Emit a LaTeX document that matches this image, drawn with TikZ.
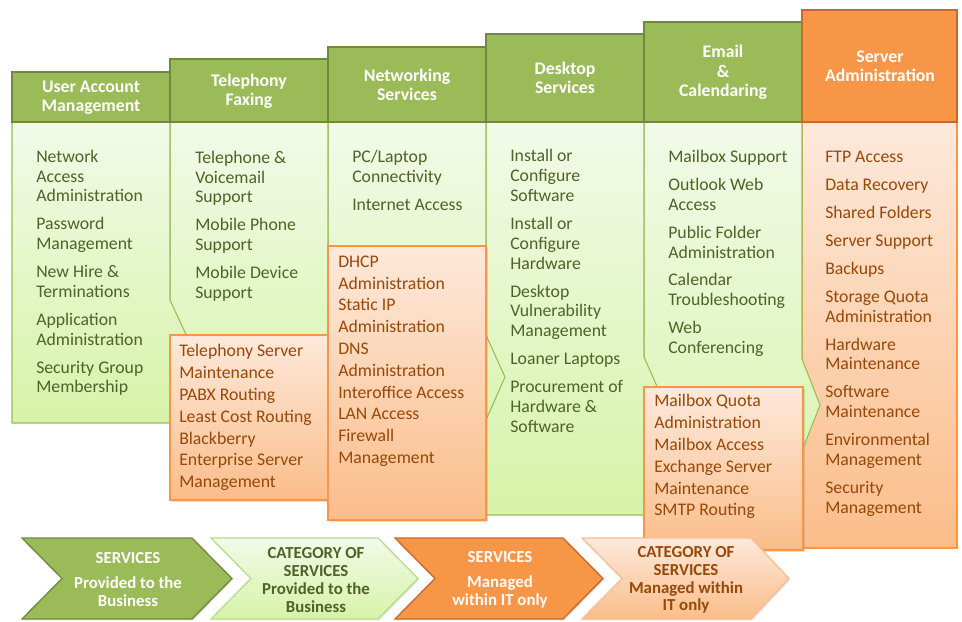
\documentclass[tikz,border=0pt]{standalone}
\usepackage{fontspec}
\setmainfont{Carlito}
\usetikzlibrary{shadows}
\definecolor{hdrG}{HTML}{9BBB59}
\definecolor{hdrGD}{HTML}{71893F}
\definecolor{hdrO}{HTML}{F79646}
\definecolor{hdrOD}{HTML}{C9682A}
\definecolor{gTop}{HTML}{F2FAE8}
\definecolor{gBot}{HTML}{D6F3A8}
\definecolor{gLine}{HTML}{9BBB59}
\definecolor{oTop}{HTML}{FDE9DB}
\definecolor{oBot}{HTML}{FBBD8A}
\definecolor{oLine}{HTML}{F79646}
\definecolor{txtG}{HTML}{4F6228}
\definecolor{txtO}{HTML}{984807}
\definecolor{lgLine}{HTML}{B9DC8F}
\definecolor{loLine}{HTML}{F9BE90}
\tikzset{
  hdrbox/.style={draw=hdrGD, line width=1.5pt, fill=hdrG},
  hdrboxO/.style={draw=hdrOD, line width=1.5pt, fill=hdrO},
  hdrtxt/.style={text=white, font=\bfseries\fontsize{13.3}{14.55}\selectfont, align=center, inner sep=0},
  greenbody/.style={draw=gLine, line width=0.8pt, top color=gTop, bottom color=gBot},
  orangebody/.style={draw=oLine, line width=0.8pt, top color=oTop, bottom color=oBot},
  obox/.style={draw=oLine, line width=0.9pt, top color=oTop, bottom color=oBot,
     drop shadow={shadow xshift=1.2pt, shadow yshift=-1.2pt, opacity=0.25}},
  gitems/.style={anchor=north west, inner sep=0, align=left, text=txtG, font=\fontsize{13.3}{14.85}\selectfont},
  oitems/.style={anchor=north west, inner sep=0, align=left, text=txtO, font=\fontsize{13.3}{14.85}\selectfont},
  obitems/.style={anchor=north west, inner sep=0, align=left, text=txtO, font=\fontsize{13.3}{16.35}\selectfont},
  legtxt/.style={align=center, inner sep=0, font=\bfseries\fontsize{12.6}{13.3}\selectfont},
  lg1/.style={draw=hdrGD, line width=1pt, fill=hdrG, drop shadow={shadow xshift=1pt, shadow yshift=-1pt, opacity=0.2}},
  lg2/.style={draw=lgLine, line width=1pt, top color=gTop, bottom color=gBot, drop shadow={shadow xshift=1pt, shadow yshift=-1pt, opacity=0.2}},
  lg3/.style={draw=hdrOD, line width=1pt, fill=hdrO, drop shadow={shadow xshift=1pt, shadow yshift=-1pt, opacity=0.2}},
  lg4/.style={draw=loLine, line width=1pt, top color=oTop, bottom color=oBot, drop shadow={shadow xshift=1pt, shadow yshift=-1pt, opacity=0.2}},
}
\begin{document}
\begin{tikzpicture}[x=0.75pt,y=-0.75pt]
\useasboundingbox (0,0) rectangle (962,621);
\fill[white] (0,0) rectangle (962,621);

% ---- column bodies (drawn right to left so each tip lies over its neighbour)
\draw[orangebody] (802,122) -- (957,122) -- (957,548) -- (802,548) -- cycle;
\draw[greenbody] (644,122) -- (802,122) -- (802,359) -- (820,405) -- (802,451) -- (802,546) -- (644,546) -- cycle;
\draw[greenbody] (486,122) -- (644,122) -- (644,357) -- (663,400) -- (644,443) -- (644,515) -- (486,515) -- cycle;
\draw[greenbody] (328,122) -- (486,122) -- (486,335) -- (505,377) -- (486,420) -- (486,485) -- (328,485) -- cycle;
\draw[greenbody] (170,122) -- (328,122) -- (328,318) -- (347,361) -- (328,404) -- (328,454) -- (170,454) -- cycle;
\draw[greenbody] (12,122) -- (170,122) -- (170,300) -- (190,343) -- (170,386) -- (170,423) -- (12,423) -- cycle;

% ---- headers
\draw[hdrbox] (12,71.5) rectangle (170,122);
\draw[hdrbox] (170,59) rectangle (328,122);
\draw[hdrbox] (328,46.5) rectangle (486,122);
\draw[hdrbox] (486,34) rectangle (644,122);
\draw[hdrbox] (644,21.5) rectangle (802,122);
\draw[hdrboxO] (802,9.5) rectangle (957,122);

\node[hdrtxt] (h1) at (91,97.5) {User Account\\Management};
\node[hdrtxt] (h2) at (249,91) {Telephony\\Faxing};
\node[hdrtxt] (h3) at (407,85) {Networking\\Services};
\node[hdrtxt] (h4) at (565,78) {Desktop\\Services};
\node[hdrtxt] (h5) at (723,72.5) {Email\\\&\\Calendaring};
\node[hdrtxt] (h6) at (880,66) {Server\\Administration};

% ---- orange boxes
\draw[obox] (170,335) rectangle (329,500);
\draw[obox] (328,246) rectangle (486,520);
\draw[obox] (644,387) rectangle (803,550);

% ---- green lists
\node[gitems] (l1) at (36,149.7) {Network\\Access\\Administration\\[6.1pt]Password\\Management\\[6.1pt]New Hire \&\\Terminations\\[6.1pt]Application\\Administration\\[6.1pt]Security Group\\Membership};
\node[gitems] (l2) at (195,150.7) {Telephone \&\\Voicemail\\Support\\[6.1pt]Mobile Phone\\Support\\[6.1pt]Mobile Device\\Support};
\node[gitems] (l3) at (352,150) {PC/Laptop\\Connectivity\\[6.1pt]Internet Access};
\node[gitems] (l4) at (510,149.4) {Install or\\Configure\\Software\\[6.1pt]Install or\\Configure\\Hardware\\[6.1pt]Desktop\\Vulnerability\\Management\\[6.1pt]Loaner Laptops\\[6.1pt]Procurement of\\Hardware \&\\Software};
\node[gitems] (l5) at (668,150) {Mailbox Support\\[6.1pt]Outlook Web\\Access\\[6.1pt]Public Folder\\Administration\\[6.1pt]Calendar\\Troubleshooting\\[6.1pt]Web\\Conferencing};
\node[oitems] (l6) at (825,151.1) {FTP Access\\[6.1pt]Data Recovery\\[6.1pt]Shared Folders\\[6.1pt]Server Support\\[6.1pt]Backups\\[6.1pt]Storage Quota\\Administration\\[6.1pt]Hardware\\Maintenance\\[6.1pt]Software\\Maintenance\\[6.1pt]Environmental\\Management\\[6.1pt]Security\\Management};

% ---- orange box lists
\node[obitems] (o2) at (179,344.4) {Telephony Server\\Maintenance\\PABX Routing\\Least Cost Routing\\Blackberry\\Enterprise Server\\Management};
\node[obitems] (o3) at (338,255.5) {DHCP\\Administration\\Static IP\\Administration\\DNS\\Administration\\Interoffice Access\\LAN Access\\Firewall\\Management};
\node[obitems] (o5) at (654,394.4) {Mailbox Quota\\Administration\\Mailbox Access\\Exchange Server\\Maintenance\\SMTP Routing};

% ---- legend chevrons
\draw[lg1] (22,538) -- (192,538) -- (232,578.5) -- (192,619) -- (22,619) -- (62,578.5) -- cycle;
\draw[lg2] (211,538) -- (378,538) -- (418,578.5) -- (378,619) -- (211,619) -- (251,578.5) -- cycle;
\draw[lg3] (395,538) -- (563,538) -- (603,578.5) -- (563,619) -- (395,619) -- (435,578.5) -- cycle;
\draw[lg4] (582,538) -- (751,538) -- (789,578.5) -- (751,619) -- (582,619) -- (622,578.5) -- cycle;

\node[legtxt, text=white] (t1) at (128,579.5) {SERVICES\\[5.8pt]Provided to the\\Business};
\node[legtxt, text=txtG] (t2) at (316,580) {CATEGORY OF\\SERVICES\\Provided to the\\Business};
\node[legtxt, text=white] (t3) at (500,579.5) {SERVICES\\[5.8pt]Managed\\within IT only};
\node[legtxt, text=txtO] (t4) at (686,580) {CATEGORY OF\\SERVICES\\Managed within\\IT only};
\end{tikzpicture}
\end{document}
